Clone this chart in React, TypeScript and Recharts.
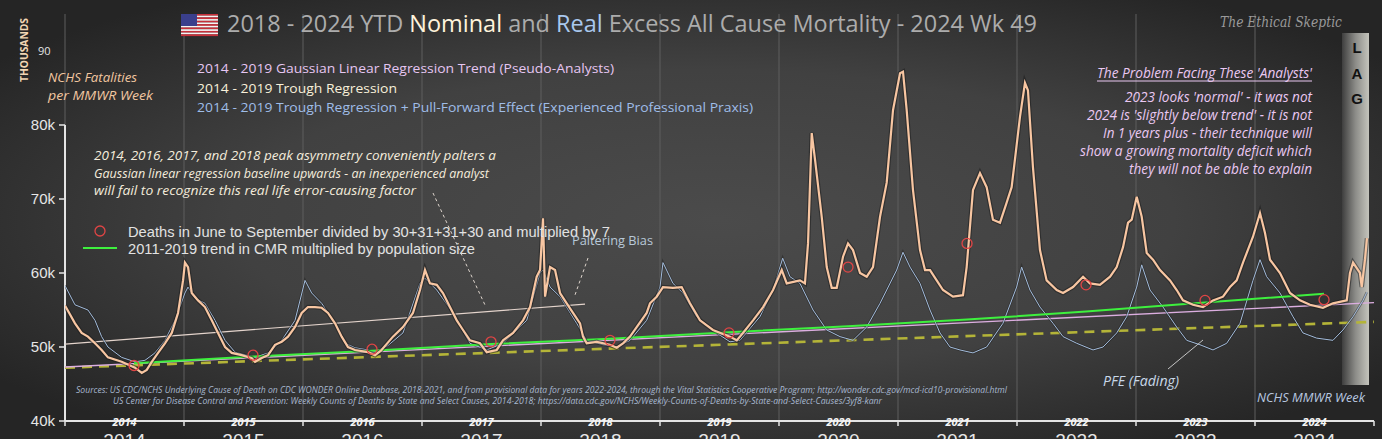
import { ComposedChart, Line, Scatter, XAxis, YAxis, ReferenceLine } from 'recharts';

// weekly deaths (thousands): [decimal year, deaths]
const nominal: [number, number][] = [
  [2014.0, 55.6], [2014.084, 53.2], [2014.14, 51.9], [2014.193, 51.4], [2014.252, 50.5], [2014.308, 49.6], [2014.361, 48.6], [2014.476, 48.0], [2014.588, 47.2], [2014.645, 46.5], [2014.687, 46.9], [2014.729, 48.0], [2014.782, 49.2], [2014.84, 50.5], [2014.897, 51.9], [2014.95, 54.6], [2014.992, 59.0],
  [2015.008, 61.4], [2015.034, 60.8], [2015.065, 57.3], [2015.118, 56.3], [2015.176, 55.4], [2015.233, 53.6], [2015.286, 51.9], [2015.345, 50.0], [2015.401, 49.2], [2015.485, 48.9], [2015.569, 48.5], [2015.597, 48.0], [2015.653, 48.5], [2015.706, 48.9], [2015.765, 50.3], [2015.821, 50.7], [2015.874, 51.4], [2015.933, 52.7], [2015.989, 54.6],
  [2016.042, 55.4], [2016.101, 55.4], [2016.157, 55.3], [2016.21, 54.6], [2016.269, 53.2], [2016.325, 51.4], [2016.378, 50.0], [2016.437, 49.6], [2016.546, 49.3], [2016.605, 48.9], [2016.655, 49.5], [2016.756, 51.4], [2016.84, 52.7], [2016.924, 54.6], [2016.983, 57.7],
  [2017.025, 60.4], [2017.067, 58.6], [2017.124, 58.4], [2017.176, 57.3], [2017.235, 55.4], [2017.292, 53.6], [2017.345, 52.3], [2017.403, 50.9], [2017.487, 50.5], [2017.544, 49.3], [2017.628, 49.6], [2017.681, 50.9], [2017.765, 51.9], [2017.849, 53.6], [2017.908, 55.4], [2017.964, 59.5], [2017.992, 60.4],
  [2018.017, 67.4], [2018.034, 56.8], [2018.076, 60.8], [2018.118, 60.4], [2018.16, 57.3], [2018.216, 55.9], [2018.269, 54.6], [2018.328, 53.2], [2018.353, 51.4], [2018.384, 50.5], [2018.468, 50.7], [2018.58, 50.3], [2018.636, 49.9], [2018.689, 50.5], [2018.748, 51.4], [2018.804, 52.7], [2018.888, 54.6], [2018.916, 55.9], [2018.972, 56.8],
  [2019.025, 58.1], [2019.109, 58.0], [2019.182, 58.1], [2019.252, 55.9], [2019.336, 53.6], [2019.445, 52.3], [2019.588, 51.4], [2019.645, 50.9], [2019.697, 51.9], [2019.782, 53.6], [2019.866, 55.4], [2019.95, 57.7],
  [2020.023, 60.4], [2020.065, 58.6], [2020.176, 59.0], [2020.218, 58.6], [2020.244, 64.0], [2020.275, 78.9], [2020.303, 75.3], [2020.359, 67.6], [2020.401, 60.8], [2020.443, 58.0], [2020.485, 58.0], [2020.538, 62.2], [2020.58, 64.0], [2020.622, 63.1], [2020.681, 60.0], [2020.737, 59.5], [2020.79, 60.8], [2020.849, 67.6], [2020.905, 72.2], [2020.958, 82.0],
  [2021.017, 87.0], [2021.042, 87.2], [2021.073, 82.0], [2021.126, 71.2], [2021.185, 63.1], [2021.227, 60.4], [2021.269, 60.4], [2021.325, 59.0], [2021.378, 57.7], [2021.462, 56.8], [2021.546, 57.0], [2021.577, 60.8], [2021.63, 71.2], [2021.689, 73.5], [2021.745, 71.6], [2021.798, 67.2], [2021.857, 66.8], [2021.913, 69.5], [2021.955, 71.6],
  [2022.025, 81.1], [2022.067, 85.7], [2022.092, 84.7], [2022.134, 74.3], [2022.193, 63.1], [2022.249, 59.0], [2022.334, 57.7], [2022.387, 57.3], [2022.471, 58.1], [2022.555, 59.5], [2022.613, 58.6], [2022.697, 58.4], [2022.782, 59.5], [2022.838, 60.8], [2022.891, 63.5], [2022.933, 66.8], [2022.964, 67.2],
  [2023.006, 70.3], [2023.048, 67.6], [2023.09, 62.7], [2023.143, 61.8], [2023.202, 60.4], [2023.286, 59.0], [2023.342, 57.7], [2023.395, 56.3], [2023.479, 55.7], [2023.563, 55.4], [2023.647, 56.3], [2023.731, 56.8], [2023.79, 58.1], [2023.846, 59.0], [2023.899, 61.4], [2023.983, 64.9],
  [2024.042, 68.1], [2024.084, 65.4], [2024.126, 61.8], [2024.21, 60.0], [2024.294, 57.3], [2024.378, 56.3], [2024.462, 55.7], [2024.571, 55.3], [2024.655, 55.9], [2024.771, 56.3], [2024.798, 60.0], [2024.824, 61.4], [2024.882, 60.0], [2024.897, 58.1], [2024.924, 61.8], [2024.941, 64.7],
];

const real: [number, number][] = [
  [2014.0, 58.3], [2014.084, 55.7], [2014.193, 55.0], [2014.252, 53.6], [2014.308, 51.4], [2014.361, 50.0], [2014.476, 48.6], [2014.588, 48.0], [2014.672, 48.2], [2014.756, 49.2], [2014.84, 50.9], [2014.924, 53.6],
  [2015.008, 57.3], [2015.034, 58.1], [2015.092, 56.6], [2015.176, 55.9], [2015.261, 53.6], [2015.345, 50.9], [2015.429, 49.3], [2015.597, 48.6], [2015.706, 49.2], [2015.821, 50.9], [2015.933, 53.6],
  [2016.017, 59.0], [2016.073, 57.3], [2016.157, 55.9], [2016.269, 53.2], [2016.353, 50.5], [2016.437, 49.9], [2016.546, 49.6], [2016.588, 49.2], [2016.714, 50.2], [2016.84, 51.9], [2016.983, 58.6],
  [2017.025, 59.3], [2017.124, 57.7], [2017.261, 54.6], [2017.403, 50.5], [2017.544, 49.6], [2017.681, 50.5], [2017.88, 53.6], [2017.992, 60.0],
  [2018.017, 60.4], [2018.076, 58.1], [2018.16, 56.8], [2018.3, 53.2], [2018.384, 50.9], [2018.521, 50.3], [2018.636, 50.0], [2018.748, 50.9], [2018.888, 53.6],
  [2019.0, 58.1], [2019.025, 61.4], [2019.109, 58.6], [2019.193, 57.3], [2019.308, 54.1], [2019.476, 51.9], [2019.588, 50.7], [2019.672, 50.9], [2019.84, 54.1], [2019.95, 57.7],
  [2020.031, 62.0], [2020.092, 59.5], [2020.176, 58.6], [2020.286, 55.0], [2020.401, 52.3], [2020.513, 51.4], [2020.622, 50.9], [2020.737, 52.7], [2020.849, 55.9], [2020.989, 60.4],
  [2021.042, 62.8], [2021.101, 60.8], [2021.185, 58.6], [2021.269, 55.0], [2021.353, 51.9], [2021.437, 50.0], [2021.521, 49.6], [2021.63, 49.2], [2021.745, 50.0], [2021.882, 53.2], [2021.997, 58.1],
  [2022.039, 60.8], [2022.109, 57.7], [2022.193, 55.4], [2022.303, 53.2], [2022.387, 51.4], [2022.502, 50.5], [2022.639, 49.6], [2022.723, 50.0], [2022.838, 51.9], [2022.922, 54.1],
  [2023.006, 58.1], [2023.048, 61.1], [2023.118, 57.7], [2023.227, 55.4], [2023.342, 52.7], [2023.426, 50.9], [2023.538, 50.3], [2023.647, 49.6], [2023.762, 50.5], [2023.874, 53.2], [2023.983, 59.0],
  [2024.042, 61.8], [2024.098, 59.5], [2024.21, 57.3], [2024.319, 54.1], [2024.403, 51.9], [2024.518, 51.2], [2024.655, 50.9], [2024.739, 52.3], [2024.824, 54.1], [2024.908, 56.3], [2024.939, 57.4],
];

// June-September averages and the CMR trend, one per year
const summerYears = [2014, 2015, 2016, 2017, 2018, 2019, 2020, 2021, 2022, 2023, 2024];
const summerDeaths = [47.5, 48.9, 49.7, 50.7, 50.9, 51.9, 60.8, 64.0, 58.4, 56.3, 56.4];
const cmrTrend = [47.8, 48.7, 49.5, 50.4, 51.1, 52.0, 52.8, 53.7, 54.8, 56.0, 57.2];

// regression lines: [decimal year, deaths]
const troughTrend: [number, number][] = [[2014, 47.3], [2025, 56.0]];
const pfeTrend: [number, number][] = [[2014, 47.2], [2025, 53.4]];
const gaussianTrend: [number, number][] = [[2014, 50.4], [2018.37, 55.8]];

const yTicks = [40, 50, 60, 70, 80];
const yearTicks = [2014, 2015, 2016, 2017, 2018, 2019, 2020, 2021, 2022, 2023, 2024, 2025];

const toPts = (arr: [number, number][]) => arr.map(([x, v]) => ({ x, v }));
const summerPts = summerYears.map((y, i) => ({ x: y + 0.58, v: summerDeaths[i] }));
const cmrPts = summerYears.map((y, i) => ({ x: y + 0.58, v: cmrTrend[i] }));

const W = 1382;
const H = 439;
const PLOT_L = 65;
const PLOT_R = 1374;
const YEAR_PX = (PLOT_R - PLOT_L) / 11;

const calibri = '"Open Sans", "Noto Sans", sans-serif';
const arial = '"Liberation Sans", Arial, sans-serif';

const YearTick = (props: any) => {
  const { x, payload } = props;
  if (payload.value >= 2025) return <g />;
  const cx = x + YEAR_PX / 2;
  return (
    <g>
      <text x={cx} y={426} textAnchor="middle" fill="#f4f4f4" fontSize={11} fontStyle="italic" fontWeight="bold" fontFamily={calibri}>{payload.value}</text>
      <text x={cx} y={447} textAnchor="middle" fill="#e6e6e6" fontSize={19} fontFamily={arial}>{payload.value}</text>
    </g>
  );
};

const Ring = (p: any) => <circle cx={p.cx} cy={p.cy} r={5} fill="none" stroke="#e04545" strokeWidth={1.3} />;

function Background() {
  const lines = yearTicks.slice(0, 11).map((y) => PLOT_L + (y - 2014) * YEAR_PX);
  return (
    <svg width={W} height={H} style={{ position: 'absolute', left: 0, top: 0 }}>
      <defs>
        <radialGradient id="bg" cx="0.5" cy="0.5" r="0.62" fx="0.52" fy="0.5">
          <stop offset="0" stopColor="#4b4b4b" />
          <stop offset="0.55" stopColor="#414141" />
          <stop offset="1" stopColor="#252525" />
        </radialGradient>
        <linearGradient id="lag" x1="0" x2="1" y1="0" y2="0">
          <stop offset="0" stopColor="#3e3e3e" />
          <stop offset="0.5" stopColor="#8c8c88" />
          <stop offset="1" stopColor="#c4c4bc" />
        </linearGradient>
      </defs>
      <rect width={W} height={H} fill="url(#bg)" />
      {lines.map((x, i) => (
        <line key={i} x1={x} x2={x} y1={14} y2={421} stroke="#5e5e5e" strokeWidth={1} />
      ))}
      <rect x={1342} y={33} width={27} height={352} fill="url(#lag)" />
      {['L', 'A', 'G'].map((c, i) => (
        <text key={c} x={1357} y={53 + i * 25.5} textAnchor="middle" fontSize={15} fontWeight="bold" fill="#111" fontFamily={arial}>{c}</text>
      ))}
    </svg>
  );
}

function Flag() {
  const stripes = Array.from({ length: 13 }, (_, i) => i);
  const sh = 22 / 13;
  return (
    <g>
      {stripes.map((i) => (
        <rect key={i} x={181} y={14 + i * sh} width={37} height={sh + 0.1} fill={i % 2 ? '#f4f4f4' : '#c8303a'} />
      ))}
      <rect x={181} y={14} width={16} height={12} fill="#3a3f8c" />
    </g>
  );
}

function Overlay() {
  const italicLines = [
    '2014,  2016,  2017,  and 2018  peak asymmetry conveniently palters a',
    'Gaussian linear regression baseline upwards - an inexperienced analyst',
    'will fail to recognize this real life error-causing factor',
  ];
  const italicEnds = [496, 489, 416];
  const italicBase = [160, 177.5, 195];
  const problem = [
    ["2023  looks 'normal' - it was not", 1125],
    ["2024  is 'slightly below trend' - it is not", 1087],
    ['In 1 years plus - their technique will', 1103],
    ['show a growing mortality deficit which', 1080],
    ['they will not be able to explain', 1129],
  ] as [string, number][];
  return (
    <svg width={W} height={H} style={{ position: 'absolute', left: 0, top: 0, pointerEvents: 'none' }}>
      <Flag />
      <text x={227} y={32} fontSize={23} fontFamily={calibri} textLength={810} lengthAdjust="spacingAndGlyphs" fill="#acacac">
        2018 - 2024 YTD <tspan fill="#fff3dc">Nominal</tspan> and <tspan fill="#a9c8ee">Real</tspan> Excess All Cause Mortality - 2024 Wk 49
      </text>
      <text x={1220} y={27} fontSize={15} fontStyle="italic" fontFamily='"DejaVu Serif", serif' fill="#9a9a9a" textLength={122} lengthAdjust="spacingAndGlyphs">The Ethical Skeptic</text>

      <text x={197} y={73} fontSize={13.5} fontFamily={calibri} fill="#e6c6f2" textLength={417} lengthAdjust="spacingAndGlyphs">2014 - 2019 Gaussian Linear Regression Trend (Pseudo-Analysts)</text>
      <text x={197} y={93} fontSize={13.5} fontFamily={calibri} fill="#f8f0da" textLength={200} lengthAdjust="spacingAndGlyphs">2014 - 2019 Trough Regression</text>
      <text x={197} y={111.5} fontSize={13.5} fontFamily={calibri} fill="#9fbde8" textLength={556} lengthAdjust="spacingAndGlyphs">2014 - 2019 Trough Regression + Pull-Forward Effect (Experienced Professional Praxis)</text>

      <text transform="translate(28,50) rotate(-90)" textAnchor="middle" fontSize={10.5} fontWeight="bold" fontFamily={calibri} fill="#f2d6b4" textLength={64} lengthAdjust="spacingAndGlyphs">THOUSANDS</text>
      <text x={38} y={55} fontSize={11} fontFamily={calibri} fill="#e4e4e4">90</text>
      <text x={48} y={82} fontSize={13.5} fontStyle="italic" fontFamily={calibri} fill="#f2c6a0" textLength={89} lengthAdjust="spacingAndGlyphs">NCHS Fatalities</text>
      <text x={48} y={100} fontSize={13.5} fontStyle="italic" fontFamily={calibri} fill="#f2c6a0" textLength={105} lengthAdjust="spacingAndGlyphs">per MMWR Week</text>

      {italicLines.map((t, i) => (
        <text key={i} x={94} y={italicBase[i]} fontSize={12.5} fontStyle="italic" fontFamily={calibri} fill="#f4ecdc" textLength={italicEnds[i] - 94} lengthAdjust="spacingAndGlyphs">{t}</text>
      ))}

      <circle cx={100} cy={231} r={5} fill="none" stroke="#e04545" strokeWidth={1.3} />
      <line x1={83} x2={117} y1={248} y2={248} stroke="#3ef03e" strokeWidth={2} />
      <text x={128} y={237} fontSize={15} fontFamily={arial} fill="#e2e2e2" textLength={482} lengthAdjust="spacingAndGlyphs">Deaths in June to September divided by 30+31+31+30 and multiplied by 7</text>
      <text x={128} y={253.5} fontSize={15} fontFamily={arial} fill="#e2e2e2" textLength={347} lengthAdjust="spacingAndGlyphs">2011-2019 trend in CMR multiplied by population size</text>

      <line x1={433} y1={193} x2={485} y2={305} stroke="#ddd4cc" strokeWidth={1} strokeDasharray="3 3" />
      <line x1={588} y1={258} x2={575} y2={295} stroke="#ddd4cc" strokeWidth={1} strokeDasharray="3 3" />
      <text x={572} y={245} fontSize={13} fontFamily={calibri} fill="#b8c8d8" textLength={81} lengthAdjust="spacingAndGlyphs">Paltering Bias</text>

      <text x={1097} y={78} fontSize={14} fontStyle="italic" fontFamily={calibri} fill="#eac8f2" textLength={215} lengthAdjust="spacingAndGlyphs">The Problem Facing These 'Analysts'</text>
      <line x1={1097} x2={1312} y1={81} y2={81} stroke="#eac8f2" strokeWidth={1} />
      {problem.map(([t, x0], i) => (
        <text key={i} x={x0} y={102 + i * 18} fontSize={14} fontStyle="italic" fontFamily={calibri} fill="#eac8f2" textLength={1312 - x0} lengthAdjust="spacingAndGlyphs">{t}</text>
      ))}

      <text x={76} y={393} fontSize={8.5} fontStyle="italic" fontFamily={calibri} fill="#a8b8d0" textLength={931} lengthAdjust="spacingAndGlyphs">Sources:  US CDC/NCHS Underlying Cause of Death on CDC WONDER Online Database, 2018-2021, and from provisional data for years 2022-2024, through the Vital Statistics Cooperative Program; http://wonder.cdc.gov/mcd-icd10-provisional.html</text>
      <text x={113} y={404} fontSize={8.5} fontStyle="italic" fontFamily={calibri} fill="#a8b8d0" textLength={769} lengthAdjust="spacingAndGlyphs">US Center for Disease Control and Prevention: Weekly Counts of Deaths by State and Select Causes, 2014-2018; https://data.cdc.gov/NCHS/Weekly-Counts-of-Deaths-by-State-and-Select-Causes/3yf8-kanr</text>

      <line x1={1168} y1={369} x2={1203} y2={340} stroke="#c4c4c4" strokeWidth={1} />
      <text x={1103} y={386} fontSize={14} fontStyle="italic" fontFamily={calibri} fill="#c8d8e8" textLength={76} lengthAdjust="spacingAndGlyphs">PFE (Fading)</text>
      <text x={1257} y={402} fontSize={12.5} fontStyle="italic" fontFamily={calibri} fill="#b8c8e0" textLength={108} lengthAdjust="spacingAndGlyphs">NCHS MMWR Week</text>
    </svg>
  );
}

export default function App() {
  return (
    <div style={{ position: 'absolute', left: 0, top: 0, width: W, height: H, overflow: 'hidden', background: '#2a2a2a' }}>
      <Background />
      <div style={{ position: 'absolute', left: 0, top: 0 }}>
        <ComposedChart width={W} height={H} margin={{ top: 51, right: W - PLOT_R, left: PLOT_L - 50, bottom: 0 }}>
          <XAxis
            type="number"
            dataKey="x"
            domain={[2014, 2025]}
            ticks={yearTicks}
            allowDataOverflow
            height={18}
            axisLine={{ stroke: '#e4e4e4', strokeWidth: 2 }}
            tickLine={{ stroke: '#e4e4e4', strokeWidth: 1.5 }}
            tickSize={5}
            tick={<YearTick />}
            interval={0}
          />
          <YAxis
            type="number"
            dataKey="v"
            domain={[40, 90]}
            ticks={yTicks}
            allowDataOverflow
            width={50}
            axisLine={false}
            tickLine={{ stroke: '#e4e4e4', strokeWidth: 1.5 }}
            tickSize={6}
            tickMargin={4}
            tickFormatter={(v: number) => `${v}k`}
            tick={{ fill: '#e6e6e6', fontSize: 15, fontFamily: arial }}
          />
          <ReferenceLine segment={[{ x: 2014, y: 40 }, { x: 2014, y: 80 }]} stroke="#e4e4e4" strokeWidth={2} />
          <Line data={toPts(pfeTrend)} dataKey="v" stroke="#b4b438" strokeWidth={2.6} strokeDasharray="10 7" dot={false} isAnimationActive={false} />
          <Line data={toPts(gaussianTrend)} dataKey="v" stroke="#e4d4cc" strokeWidth={1.2} dot={false} isAnimationActive={false} />
          <Line data={toPts(troughTrend)} dataKey="v" stroke="#dcaee0" strokeWidth={1.4} dot={false} isAnimationActive={false} />
          <Line data={toPts(real)} dataKey="v" stroke="#1e1e1e" strokeOpacity={0.45} strokeWidth={2.5} dot={false} isAnimationActive={false} />
          <Line data={toPts(real)} dataKey="v" stroke="#a3bcdc" strokeWidth={1} dot={false} isAnimationActive={false} />
          <Line data={cmrPts} dataKey="v" stroke="#3ef03e" strokeWidth={2} dot={false} isAnimationActive={false} />
          <Line data={toPts(nominal)} dataKey="v" stroke="#1a1a1a" strokeOpacity={0.5} strokeWidth={4.5} dot={false} isAnimationActive={false} />
          <Line data={toPts(nominal)} dataKey="v" stroke="#f8c6a2" strokeWidth={2.2} dot={false} isAnimationActive={false} />
          <Scatter data={summerPts} dataKey="v" shape={<Ring />} isAnimationActive={false} />
        </ComposedChart>
      </div>
      <Overlay />
    </div>
  );
}
